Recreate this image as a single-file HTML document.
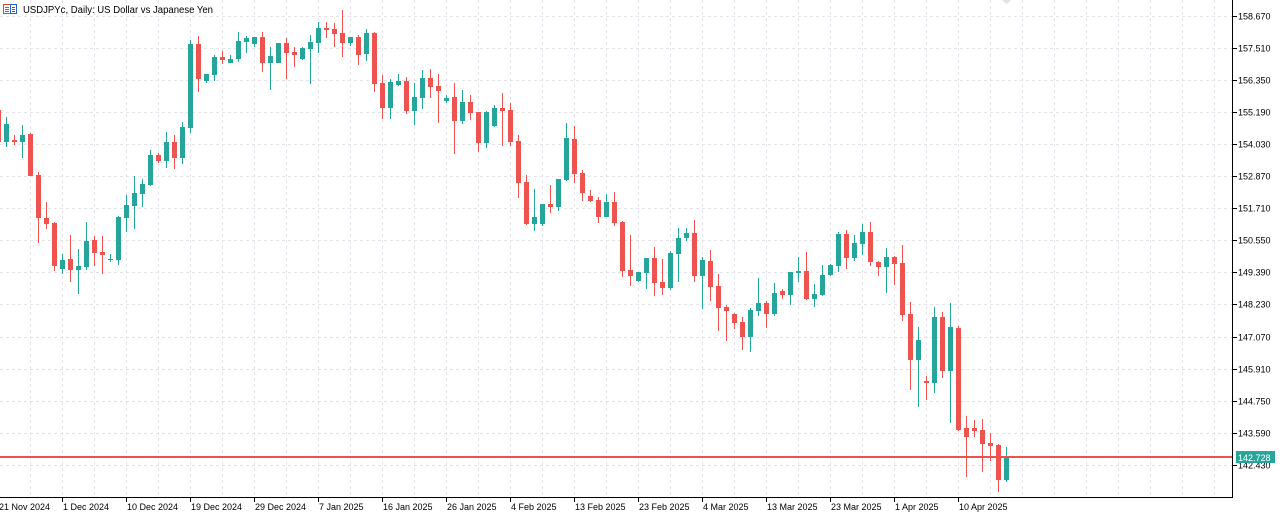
<!DOCTYPE html>
<html><head><meta charset="utf-8"><style>
html,body{margin:0;padding:0;background:#fff;}
svg{display:block;}
text{font-family:"Liberation Sans",Arial,sans-serif;}
</style></head><body>
<svg width="1285" height="518" viewBox="0 0 1285 518" xmlns="http://www.w3.org/2000/svg">
<rect width="1285" height="518" fill="#fff"/>
<g stroke="#e7e3ea" stroke-width="1" stroke-dasharray="3 3" shape-rendering="crispEdges">
<line x1="0" x2="1233" y1="16.5" y2="16.5"/><line x1="0" x2="1233" y1="48.5" y2="48.5"/><line x1="0" x2="1233" y1="80.5" y2="80.5"/><line x1="0" x2="1233" y1="112.5" y2="112.5"/><line x1="0" x2="1233" y1="144.5" y2="144.5"/><line x1="0" x2="1233" y1="176.5" y2="176.5"/><line x1="0" x2="1233" y1="208.5" y2="208.5"/><line x1="0" x2="1233" y1="240.5" y2="240.5"/><line x1="0" x2="1233" y1="272.5" y2="272.5"/><line x1="0" x2="1233" y1="304.5" y2="304.5"/><line x1="0" x2="1233" y1="337.5" y2="337.5"/><line x1="0" x2="1233" y1="369.5" y2="369.5"/><line x1="0" x2="1233" y1="401.5" y2="401.5"/><line x1="0" x2="1233" y1="433.5" y2="433.5"/><line x1="0" x2="1233" y1="465.5" y2="465.5"/>
<line y1="0" y2="497" x1="30.5" x2="30.5"/><line y1="0" y2="497" x1="62.5" x2="62.5"/><line y1="0" y2="497" x1="94.5" x2="94.5"/><line y1="0" y2="497" x1="126.5" x2="126.5"/><line y1="0" y2="497" x1="158.5" x2="158.5"/><line y1="0" y2="497" x1="190.5" x2="190.5"/><line y1="0" y2="497" x1="222.5" x2="222.5"/><line y1="0" y2="497" x1="254.5" x2="254.5"/><line y1="0" y2="497" x1="286.5" x2="286.5"/><line y1="0" y2="497" x1="318.5" x2="318.5"/><line y1="0" y2="497" x1="350.5" x2="350.5"/><line y1="0" y2="497" x1="382.5" x2="382.5"/><line y1="0" y2="497" x1="414.5" x2="414.5"/><line y1="0" y2="497" x1="446.5" x2="446.5"/><line y1="0" y2="497" x1="478.5" x2="478.5"/><line y1="0" y2="497" x1="510.5" x2="510.5"/><line y1="0" y2="497" x1="542.5" x2="542.5"/><line y1="0" y2="497" x1="574.5" x2="574.5"/><line y1="0" y2="497" x1="606.5" x2="606.5"/><line y1="0" y2="497" x1="638.5" x2="638.5"/><line y1="0" y2="497" x1="670.5" x2="670.5"/><line y1="0" y2="497" x1="702.5" x2="702.5"/><line y1="0" y2="497" x1="734.5" x2="734.5"/><line y1="0" y2="497" x1="766.5" x2="766.5"/><line y1="0" y2="497" x1="798.5" x2="798.5"/><line y1="0" y2="497" x1="830.5" x2="830.5"/><line y1="0" y2="497" x1="862.5" x2="862.5"/><line y1="0" y2="497" x1="894.5" x2="894.5"/><line y1="0" y2="497" x1="926.5" x2="926.5"/><line y1="0" y2="497" x1="958.5" x2="958.5"/><line y1="0" y2="497" x1="990.5" x2="990.5"/><line y1="0" y2="497" x1="1022.5" x2="1022.5"/><line y1="0" y2="497" x1="1054.5" x2="1054.5"/><line y1="0" y2="497" x1="1086.5" x2="1086.5"/><line y1="0" y2="497" x1="1118.5" x2="1118.5"/><line y1="0" y2="497" x1="1150.5" x2="1150.5"/><line y1="0" y2="497" x1="1182.5" x2="1182.5"/><line y1="0" y2="497" x1="1214.5" x2="1214.5"/>
</g>
<polygon points="1002,0 1011,0 1006.5,4" fill="#e4e0e8"/>
<g fill="#26a69a" shape-rendering="crispEdges">
<rect x="6" y="117" width="1" height="30"/><rect x="4" y="124" width="5" height="18"/>
<rect x="22" y="125" width="1" height="33"/><rect x="20" y="135" width="5" height="7"/>
<rect x="62" y="254" width="1" height="20"/><rect x="60" y="260" width="5" height="9"/>
<rect x="78" y="249" width="1" height="45"/><rect x="76" y="266" width="5" height="4"/>
<rect x="86" y="222" width="1" height="48"/><rect x="84" y="241" width="5" height="26"/>
<rect x="110" y="254" width="1" height="8"/><rect x="108" y="259" width="5" height="1"/>
<rect x="118" y="216" width="1" height="49"/><rect x="116" y="217" width="5" height="43"/>
<rect x="126" y="195" width="1" height="37"/><rect x="124" y="205" width="5" height="13"/>
<rect x="134" y="176" width="1" height="53"/><rect x="132" y="193" width="5" height="13"/>
<rect x="142" y="179" width="1" height="28"/><rect x="140" y="184" width="5" height="10"/>
<rect x="150" y="150" width="1" height="36"/><rect x="148" y="155" width="5" height="30"/>
<rect x="166" y="132" width="1" height="36"/><rect x="164" y="142" width="5" height="19"/>
<rect x="182" y="122" width="1" height="42"/><rect x="180" y="127" width="5" height="31"/>
<rect x="190" y="40" width="1" height="93"/><rect x="188" y="44" width="5" height="84"/>
<rect x="206" y="74" width="1" height="9"/><rect x="204" y="74" width="5" height="7"/>
<rect x="214" y="55" width="1" height="26"/><rect x="212" y="57" width="5" height="18"/>
<rect x="230" y="55" width="1" height="8"/><rect x="228" y="59" width="5" height="4"/>
<rect x="238" y="32" width="1" height="30"/><rect x="236" y="41" width="5" height="18"/>
<rect x="246" y="36" width="1" height="17"/><rect x="244" y="38" width="5" height="4"/>
<rect x="254" y="37" width="1" height="10"/><rect x="252" y="37" width="5" height="7"/>
<rect x="270" y="47" width="1" height="43"/><rect x="268" y="56" width="5" height="7"/>
<rect x="278" y="43" width="1" height="20"/><rect x="276" y="43" width="5" height="20"/>
<rect x="302" y="47" width="1" height="13"/><rect x="300" y="48" width="5" height="11"/>
<rect x="310" y="35" width="1" height="49"/><rect x="308" y="42" width="5" height="7"/>
<rect x="318" y="22" width="1" height="31"/><rect x="316" y="28" width="5" height="15"/>
<rect x="350" y="37" width="1" height="9"/><rect x="348" y="37" width="5" height="6"/>
<rect x="366" y="29" width="1" height="32"/><rect x="364" y="33" width="5" height="21"/>
<rect x="390" y="79" width="1" height="40"/><rect x="388" y="82" width="5" height="26"/>
<rect x="398" y="74" width="1" height="12"/><rect x="396" y="81" width="5" height="4"/>
<rect x="414" y="83" width="1" height="42"/><rect x="412" y="97" width="5" height="14"/>
<rect x="422" y="70" width="1" height="39"/><rect x="420" y="78" width="5" height="20"/>
<rect x="446" y="95" width="1" height="8"/><rect x="444" y="98" width="5" height="3"/>
<rect x="462" y="90" width="1" height="34"/><rect x="460" y="102" width="5" height="19"/>
<rect x="486" y="111" width="1" height="37"/><rect x="484" y="112" width="5" height="31"/>
<rect x="494" y="105" width="1" height="22"/><rect x="492" y="108" width="5" height="18"/>
<rect x="534" y="189" width="1" height="42"/><rect x="532" y="217" width="5" height="7"/>
<rect x="542" y="204" width="1" height="22"/><rect x="540" y="204" width="5" height="20"/>
<rect x="558" y="179" width="1" height="32"/><rect x="556" y="179" width="5" height="28"/>
<rect x="566" y="123" width="1" height="58"/><rect x="564" y="138" width="5" height="42"/>
<rect x="606" y="194" width="1" height="23"/><rect x="604" y="202" width="5" height="15"/>
<rect x="638" y="272" width="1" height="10"/><rect x="636" y="272" width="5" height="9"/>
<rect x="646" y="258" width="1" height="31"/><rect x="644" y="258" width="5" height="15"/>
<rect x="670" y="251" width="1" height="39"/><rect x="668" y="253" width="5" height="35"/>
<rect x="678" y="228" width="1" height="54"/><rect x="676" y="238" width="5" height="16"/>
<rect x="686" y="228" width="1" height="13"/><rect x="684" y="233" width="5" height="5"/>
<rect x="702" y="257" width="1" height="52"/><rect x="700" y="260" width="5" height="16"/>
<rect x="750" y="308" width="1" height="44"/><rect x="748" y="310" width="5" height="27"/>
<rect x="758" y="278" width="1" height="38"/><rect x="756" y="303" width="5" height="8"/>
<rect x="774" y="283" width="1" height="33"/><rect x="772" y="293" width="5" height="21"/>
<rect x="790" y="272" width="1" height="33"/><rect x="788" y="272" width="5" height="23"/>
<rect x="798" y="257" width="1" height="25"/><rect x="796" y="271" width="5" height="2"/>
<rect x="814" y="284" width="1" height="23"/><rect x="812" y="294" width="5" height="5"/>
<rect x="822" y="265" width="1" height="31"/><rect x="820" y="275" width="5" height="20"/>
<rect x="830" y="264" width="1" height="12"/><rect x="828" y="265" width="5" height="10"/>
<rect x="838" y="232" width="1" height="40"/><rect x="836" y="234" width="5" height="32"/>
<rect x="854" y="235" width="1" height="26"/><rect x="852" y="243" width="5" height="15"/>
<rect x="862" y="224" width="1" height="31"/><rect x="860" y="232" width="5" height="12"/>
<rect x="886" y="248" width="1" height="45"/><rect x="884" y="257" width="5" height="10"/>
<rect x="918" y="327" width="1" height="80"/><rect x="916" y="340" width="5" height="20"/>
<rect x="934" y="307" width="1" height="86"/><rect x="932" y="317" width="5" height="66"/>
<rect x="950" y="303" width="1" height="120"/><rect x="948" y="327" width="5" height="44"/>
<rect x="1006" y="447" width="1" height="35"/><rect x="1004" y="457" width="5" height="23"/>
</g>
<g fill="#ef5350" shape-rendering="crispEdges">
<rect x="-4" y="110" width="5" height="32"/>
<rect x="14" y="135" width="1" height="10"/><rect x="12" y="140" width="5" height="2"/>
<rect x="30" y="133" width="1" height="43"/><rect x="28" y="134" width="5" height="42"/>
<rect x="38" y="172" width="1" height="71"/><rect x="36" y="175" width="5" height="43"/>
<rect x="46" y="202" width="1" height="27"/><rect x="44" y="218" width="5" height="6"/>
<rect x="54" y="222" width="1" height="49"/><rect x="52" y="223" width="5" height="43"/>
<rect x="70" y="235" width="1" height="47"/><rect x="68" y="259" width="5" height="11"/>
<rect x="94" y="236" width="1" height="30"/><rect x="92" y="240" width="5" height="13"/>
<rect x="102" y="236" width="1" height="38"/><rect x="100" y="252" width="5" height="3"/>
<rect x="158" y="153" width="1" height="10"/><rect x="156" y="155" width="5" height="6"/>
<rect x="174" y="135" width="1" height="34"/><rect x="172" y="142" width="5" height="16"/>
<rect x="198" y="36" width="1" height="56"/><rect x="196" y="44" width="5" height="35"/>
<rect x="222" y="51" width="1" height="13"/><rect x="220" y="57" width="5" height="3"/>
<rect x="262" y="32" width="1" height="40"/><rect x="260" y="37" width="5" height="26"/>
<rect x="286" y="38" width="1" height="41"/><rect x="284" y="43" width="5" height="10"/>
<rect x="294" y="47" width="1" height="20"/><rect x="292" y="52" width="5" height="3"/>
<rect x="326" y="22" width="1" height="16"/><rect x="324" y="28" width="5" height="2"/>
<rect x="334" y="23" width="1" height="24"/><rect x="332" y="29" width="5" height="5"/>
<rect x="342" y="10" width="1" height="47"/><rect x="340" y="33" width="5" height="10"/>
<rect x="358" y="35" width="1" height="30"/><rect x="356" y="37" width="5" height="18"/>
<rect x="374" y="32" width="1" height="60"/><rect x="372" y="33" width="5" height="51"/>
<rect x="382" y="75" width="1" height="44"/><rect x="380" y="83" width="5" height="25"/>
<rect x="406" y="77" width="1" height="37"/><rect x="404" y="81" width="5" height="30"/>
<rect x="430" y="69" width="1" height="29"/><rect x="428" y="78" width="5" height="9"/>
<rect x="438" y="74" width="1" height="49"/><rect x="436" y="86" width="5" height="5"/>
<rect x="454" y="83" width="1" height="71"/><rect x="452" y="97" width="5" height="24"/>
<rect x="470" y="95" width="1" height="25"/><rect x="468" y="102" width="5" height="11"/>
<rect x="478" y="112" width="1" height="40"/><rect x="476" y="112" width="5" height="31"/>
<rect x="502" y="93" width="1" height="53"/><rect x="500" y="108" width="5" height="3"/>
<rect x="510" y="103" width="1" height="43"/><rect x="508" y="110" width="5" height="32"/>
<rect x="518" y="135" width="1" height="63"/><rect x="516" y="141" width="5" height="42"/>
<rect x="526" y="175" width="1" height="50"/><rect x="524" y="182" width="5" height="42"/>
<rect x="550" y="185" width="1" height="28"/><rect x="548" y="204" width="5" height="3"/>
<rect x="574" y="126" width="1" height="57"/><rect x="572" y="139" width="5" height="35"/>
<rect x="582" y="170" width="1" height="31"/><rect x="580" y="173" width="5" height="20"/>
<rect x="590" y="190" width="1" height="12"/><rect x="588" y="196" width="5" height="5"/>
<rect x="598" y="197" width="1" height="26"/><rect x="596" y="200" width="5" height="17"/>
<rect x="614" y="192" width="1" height="34"/><rect x="612" y="202" width="5" height="21"/>
<rect x="622" y="221" width="1" height="56"/><rect x="620" y="222" width="5" height="49"/>
<rect x="630" y="235" width="1" height="51"/><rect x="628" y="270" width="5" height="6"/>
<rect x="654" y="247" width="1" height="49"/><rect x="652" y="258" width="5" height="25"/>
<rect x="662" y="259" width="1" height="36"/><rect x="660" y="282" width="5" height="6"/>
<rect x="694" y="220" width="1" height="62"/><rect x="692" y="233" width="5" height="43"/>
<rect x="710" y="250" width="1" height="51"/><rect x="708" y="261" width="5" height="26"/>
<rect x="718" y="274" width="1" height="57"/><rect x="716" y="286" width="5" height="22"/>
<rect x="726" y="305" width="1" height="36"/><rect x="724" y="307" width="5" height="4"/>
<rect x="734" y="313" width="1" height="16"/><rect x="732" y="314" width="5" height="9"/>
<rect x="742" y="317" width="1" height="33"/><rect x="740" y="322" width="5" height="15"/>
<rect x="766" y="301" width="1" height="27"/><rect x="764" y="303" width="5" height="11"/>
<rect x="782" y="289" width="1" height="10"/><rect x="780" y="291" width="5" height="4"/>
<rect x="806" y="252" width="1" height="48"/><rect x="804" y="271" width="5" height="28"/>
<rect x="846" y="230" width="1" height="39"/><rect x="844" y="234" width="5" height="24"/>
<rect x="870" y="222" width="1" height="44"/><rect x="868" y="232" width="5" height="30"/>
<rect x="878" y="261" width="1" height="15"/><rect x="876" y="262" width="5" height="5"/>
<rect x="894" y="256" width="1" height="29"/><rect x="892" y="257" width="5" height="7"/>
<rect x="902" y="245" width="1" height="76"/><rect x="900" y="263" width="5" height="52"/>
<rect x="910" y="302" width="1" height="88"/><rect x="908" y="314" width="5" height="46"/>
<rect x="926" y="376" width="1" height="24"/><rect x="924" y="381" width="5" height="2"/>
<rect x="942" y="312" width="1" height="66"/><rect x="940" y="317" width="5" height="54"/>
<rect x="958" y="326" width="1" height="105"/><rect x="956" y="328" width="5" height="102"/>
<rect x="966" y="416" width="1" height="61"/><rect x="964" y="428" width="5" height="9"/>
<rect x="974" y="420" width="1" height="17"/><rect x="972" y="428" width="5" height="3"/>
<rect x="982" y="419" width="1" height="53"/><rect x="980" y="430" width="5" height="14"/>
<rect x="990" y="433" width="1" height="28"/><rect x="988" y="443" width="5" height="3"/>
<rect x="998" y="444" width="1" height="48"/><rect x="996" y="445" width="5" height="35"/>
</g>
<g shape-rendering="crispEdges">
<rect x="0" y="456" width="1233" height="1" fill="#ef5350"/>
<rect x="0" y="457" width="1233" height="1" fill="#26a69a"/>
<rect x="1232" y="0" width="1" height="498" fill="#000"/>
<rect x="0" y="497" width="1233" height="1" fill="#000"/>
</g>
<g fill="#000" shape-rendering="crispEdges">
<rect x="1233" y="16" width="4" height="1"/><rect x="1233" y="48" width="4" height="1"/><rect x="1233" y="80" width="4" height="1"/><rect x="1233" y="112" width="4" height="1"/><rect x="1233" y="144" width="4" height="1"/><rect x="1233" y="176" width="4" height="1"/><rect x="1233" y="208" width="4" height="1"/><rect x="1233" y="240" width="4" height="1"/><rect x="1233" y="272" width="4" height="1"/><rect x="1233" y="304" width="4" height="1"/><rect x="1233" y="337" width="4" height="1"/><rect x="1233" y="369" width="4" height="1"/><rect x="1233" y="401" width="4" height="1"/><rect x="1233" y="433" width="4" height="1"/><rect x="1233" y="465" width="4" height="1"/>
<rect x="62" y="497" width="1" height="5"/><rect x="126" y="497" width="1" height="5"/><rect x="190" y="497" width="1" height="5"/><rect x="254" y="497" width="1" height="5"/><rect x="318" y="497" width="1" height="5"/><rect x="382" y="497" width="1" height="5"/><rect x="446" y="497" width="1" height="5"/><rect x="510" y="497" width="1" height="5"/><rect x="574" y="497" width="1" height="5"/><rect x="638" y="497" width="1" height="5"/><rect x="702" y="497" width="1" height="5"/><rect x="766" y="497" width="1" height="5"/><rect x="830" y="497" width="1" height="5"/><rect x="894" y="497" width="1" height="5"/><rect x="958" y="497" width="1" height="5"/>
</g>
<g font-size="9" fill="#000">
<text x="1238" y="19.3">158.670</text>
<text x="1238" y="51.3">157.510</text>
<text x="1238" y="83.3">156.350</text>
<text x="1238" y="115.3">155.190</text>
<text x="1238" y="147.3">154.030</text>
<text x="1238" y="179.3">152.870</text>
<text x="1238" y="211.3">151.710</text>
<text x="1238" y="243.3">150.550</text>
<text x="1238" y="275.3">149.390</text>
<text x="1238" y="307.3">148.230</text>
<text x="1238" y="340.3">147.070</text>
<text x="1238" y="372.3">145.910</text>
<text x="1238" y="404.3">144.750</text>
<text x="1238" y="436.3">143.590</text>
<text x="1238" y="468.3">142.430</text>
</g>
<rect x="1236" y="451" width="39" height="1" fill="#ef5350"/>
<rect x="1236" y="452" width="39" height="11" fill="#26a69a"/>
<text x="1238" y="460.8" font-size="9" fill="#fff">142.728</text>
<g font-size="9" fill="#000">
<text x="-1" y="510">21 Nov 2024</text>
<text x="63" y="510">1 Dec 2024</text>
<text x="127" y="510">10 Dec 2024</text>
<text x="191" y="510">19 Dec 2024</text>
<text x="255" y="510">29 Dec 2024</text>
<text x="319" y="510">7 Jan 2025</text>
<text x="383" y="510">16 Jan 2025</text>
<text x="447" y="510">26 Jan 2025</text>
<text x="511" y="510">4 Feb 2025</text>
<text x="575" y="510">13 Feb 2025</text>
<text x="639" y="510">23 Feb 2025</text>
<text x="703" y="510">4 Mar 2025</text>
<text x="767" y="510">13 Mar 2025</text>
<text x="831" y="510">23 Mar 2025</text>
<text x="895" y="510">1 Apr 2025</text>
<text x="959" y="510">10 Apr 2025</text>
</g>
<g shape-rendering="crispEdges">
<rect x="3.5" y="4.5" width="7" height="9" fill="none" stroke="#e8403a"/>
<rect x="10.5" y="4.5" width="6" height="9" fill="none" stroke="#2a62c4"/>
<rect x="5" y="7" width="4" height="1" fill="#e8403a"/><rect x="5" y="9" width="4" height="1" fill="#e8403a"/><rect x="5" y="11" width="4" height="1" fill="#e8403a"/>
<rect x="12" y="7" width="3" height="1" fill="#2a62c4"/><rect x="12" y="9" width="3" height="1" fill="#2a62c4"/><rect x="12" y="11" width="3" height="1" fill="#2a62c4"/>
</g>
<text x="23" y="13" font-size="10" fill="#000" textLength="190" lengthAdjust="spacingAndGlyphs">USDJPYc, Daily:  US Dollar vs Japanese Yen</text>
</svg>
</body></html>
